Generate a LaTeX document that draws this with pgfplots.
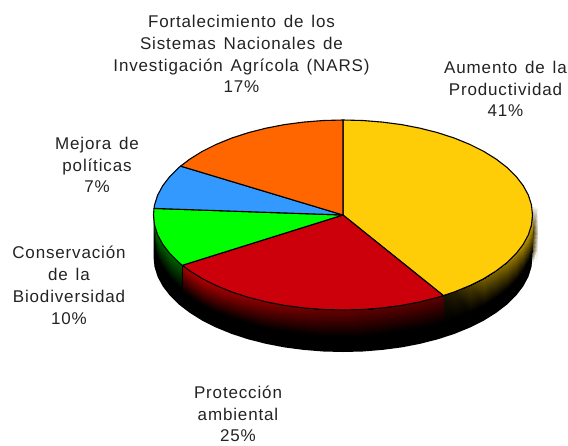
\documentclass[border=0pt]{standalone}
\usepackage{pgfplots}
\usepackage{fontspec}
\setmainfont[LetterSpace=5,WordSpace=1.4]{Liberation Sans}
\pgfplotsset{compat=1.18,
 colormap={cy}{rgb255=(0,0,0) rgb255=(255,204,0)},
 colormap={cr}{rgb255=(0,0,0) rgb255=(204,0,0)},
 colormap={cg}{rgb255=(0,0,0) rgb255=(0,255,0)},
 colormap={cs}{rgb255=(255,255,255) rgb255=(80,62,5)}}
\definecolor{py}{RGB}{255,204,8}
\definecolor{pr}{RGB}{204,0,10}
\definecolor{pg}{RGB}{0,255,0}
\definecolor{pb}{RGB}{51,153,255}
\definecolor{po}{RGB}{255,102,0}
\definecolor{tx}{RGB}{35,35,35}
\begin{document}
\begin{tikzpicture}
\path[use as bounding box] (0,0) rectangle (568pt,445pt);
\begin{axis}[at={(0,0)},anchor=south west,width=568pt,height=445pt,scale only axis,xmin=0,xmax=568,ymin=0,ymax=445,y dir=reverse,hide axis,point meta min=0,point meta max=1,clip=false]
% shadow smear at right
\addplot[surf,shader=interp,colormap name=cs,mesh/cols=2,point meta=explicit] table[meta index=2] {
533 207 0.1
537 207 0
533 232 1
537 232 0.3
533 250 0.8
537 250 0.1
533 263 0
537 263 0
};
% black lower body
\addplot[fill=black,draw=none] coordinates {(343,215)(532.5,215)(532.5,257)(531.5,266.9)(528.4,276.8)(523.2,286.4)(516.1,295.6)(507.1,304.5)(496.3,312.8)(483.8,320.6)(469.8,327.6)(454.4,333.9)(437.8,339.3)(420.1,343.8)(401.6,347.4)(382.4,349.9)(362.8,351.5)(343,352)(323.2,351.5)(303.6,349.9)(284.4,347.4)(265.9,343.8)(248.2,339.3)(231.6,333.9)(216.2,327.6)(202.2,320.6)(189.7,312.8)(178.9,304.5)(169.9,295.6)(162.8,286.4)(157.6,276.8)(154.5,266.9)(153.5,257)(153.5,215)} -- cycle;
% side gradients
\addplot[surf,shader=interp,colormap name=cy,mesh/cols=2,point meta=explicit] table[meta index=2] {
532.5 215 0.75
532.5 241 0
531.5 224.9 0.75
531.5 250.9 0
528.4 234.8 0.75
528.4 260.8 0
523.2 244.4 0.7
523.2 270.4 0
516.1 253.6 0.6
516.1 279.6 0
507.1 262.5 0.55
507.1 288.5 0
496.3 270.8 0.5
496.3 296.8 0
483.8 278.6 0.45
483.8 304.6 0
469.8 285.6 0.3
469.8 311.6 0
454.4 291.9 0.15
454.4 317.9 0
443.4 295.6 0.1
443.4 321.6 0
};
\addplot[surf,shader=interp,colormap name=cr,mesh/cols=2,point meta=explicit] table[meta index=2] {
443.4 295.6 0.45
443.4 321.6 0
437.8 297.3 0.45
437.8 323.3 0
420.1 301.8 0.45
420.1 327.8 0
401.6 305.4 0.45
401.6 331.4 0
382.4 307.9 0.45
382.4 333.9 0
362.8 309.5 0.45
362.8 335.5 0
343 310 0.5
343 336 0
323.2 309.5 0.5
323.2 335.5 0
303.6 307.9 0.55
303.6 333.9 0
284.4 305.4 0.6
284.4 331.4 0
265.9 301.8 0.65
265.9 327.8 0
248.2 297.3 0.7
248.2 323.3 0
231.6 291.9 0.75
231.6 317.9 0
216.2 285.6 0.8
216.2 311.6 0
202.2 278.6 0.85
202.2 304.6 0
189.7 270.8 0.85
189.7 296.8 0
182.3 265.3 0.85
182.3 291.3 0
};
\addplot[surf,shader=interp,colormap name=cg,mesh/cols=2,point meta=explicit] table[meta index=2] {
182.3 265.3 0.35
182.3 289.3 0
178.9 262.5 0.35
178.9 286.5 0
169.9 253.6 0.4
169.9 277.6 0
162.8 244.4 0.4
162.8 268.4 0
157.6 234.8 0.45
157.6 258.8 0
154.5 224.9 0.5
154.5 248.9 0
153.5 215 0.5
153.5 239 0
};
\addplot[draw=black,line width=1pt] coordinates {(182.3,265.3)(182.3,307.3)};
% top face
\addplot[fill=py,draw=black,line width=1.1pt,line join=round] coordinates {(343,215)(343,120)(362.8,120.5)(382.4,122.1)(401.6,124.6)(420.1,128.2)(437.8,132.7)(454.4,138.1)(469.8,144.4)(483.8,151.4)(496.3,159.2)(507.1,167.5)(516.1,176.4)(523.2,185.6)(528.4,195.2)(531.5,205.1)(532.5,215)(531.5,224.9)(528.4,234.8)(523.2,244.4)(516.1,253.6)(507.1,262.5)(496.3,270.8)(483.8,278.6)(469.8,285.6)(454.4,291.9)(443.4,295.6)} -- cycle;
\addplot[fill=pr,draw=black,line width=1.1pt,line join=round] coordinates {(343,215)(443.4,295.6)(437.8,297.3)(420.1,301.8)(401.6,305.4)(382.4,307.9)(362.8,309.5)(343,310)(323.2,309.5)(303.6,307.9)(284.4,305.4)(265.9,301.8)(248.2,297.3)(231.6,291.9)(216.2,285.6)(202.2,278.6)(189.7,270.8)(182.3,265.3)} -- cycle;
\addplot[fill=pg,draw=black,line width=1.1pt,line join=round] coordinates {(343,215)(182.3,265.3)(178.9,262.5)(169.9,253.6)(162.8,244.4)(157.6,234.8)(154.5,224.9)(153.5,215)(154,208.4)} -- cycle;
\addplot[fill=pb,draw=black,line width=1.1pt,line join=round] coordinates {(343,215)(154,208.4)(154.5,205.1)(157.6,195.2)(162.8,185.6)(169.9,176.4)(178.9,167.5)(180.6,166.1)} -- cycle;
\addplot[fill=po,draw=black,line width=1.1pt,line join=round] coordinates {(343,215)(180.6,166.1)(189.7,159.2)(202.2,151.4)(216.2,144.4)(231.6,138.1)(248.2,132.7)(265.9,128.2)(284.4,124.6)(303.6,122.1)(323.2,120.5)(343,120)} -- cycle;
% labels
\tikzset{lab/.style={align=center,text=tx,inner sep=0pt,font=\fontsize{17}{21.8}\selectfont}}
\node[lab] at (axis cs:241.5,54) {Fortalecimiento de los\\Sistemas Nacionales de\\Investigación Agrícola (NARS)\\17\%};
\node[lab] at (axis cs:505.5,89) {Aumento de la\\Productividad\\41\%};
\node[lab] at (axis cs:97,165) {Mejora de\\políticas\\7\%};
\node[lab] at (axis cs:69,285.5) {Conservación\\de la\\Biodiversidad\\10\%};
\node[lab] at (axis cs:238,414) {Protección\\ambiental\\25\%};
\end{axis}
\end{tikzpicture}
\end{document}
